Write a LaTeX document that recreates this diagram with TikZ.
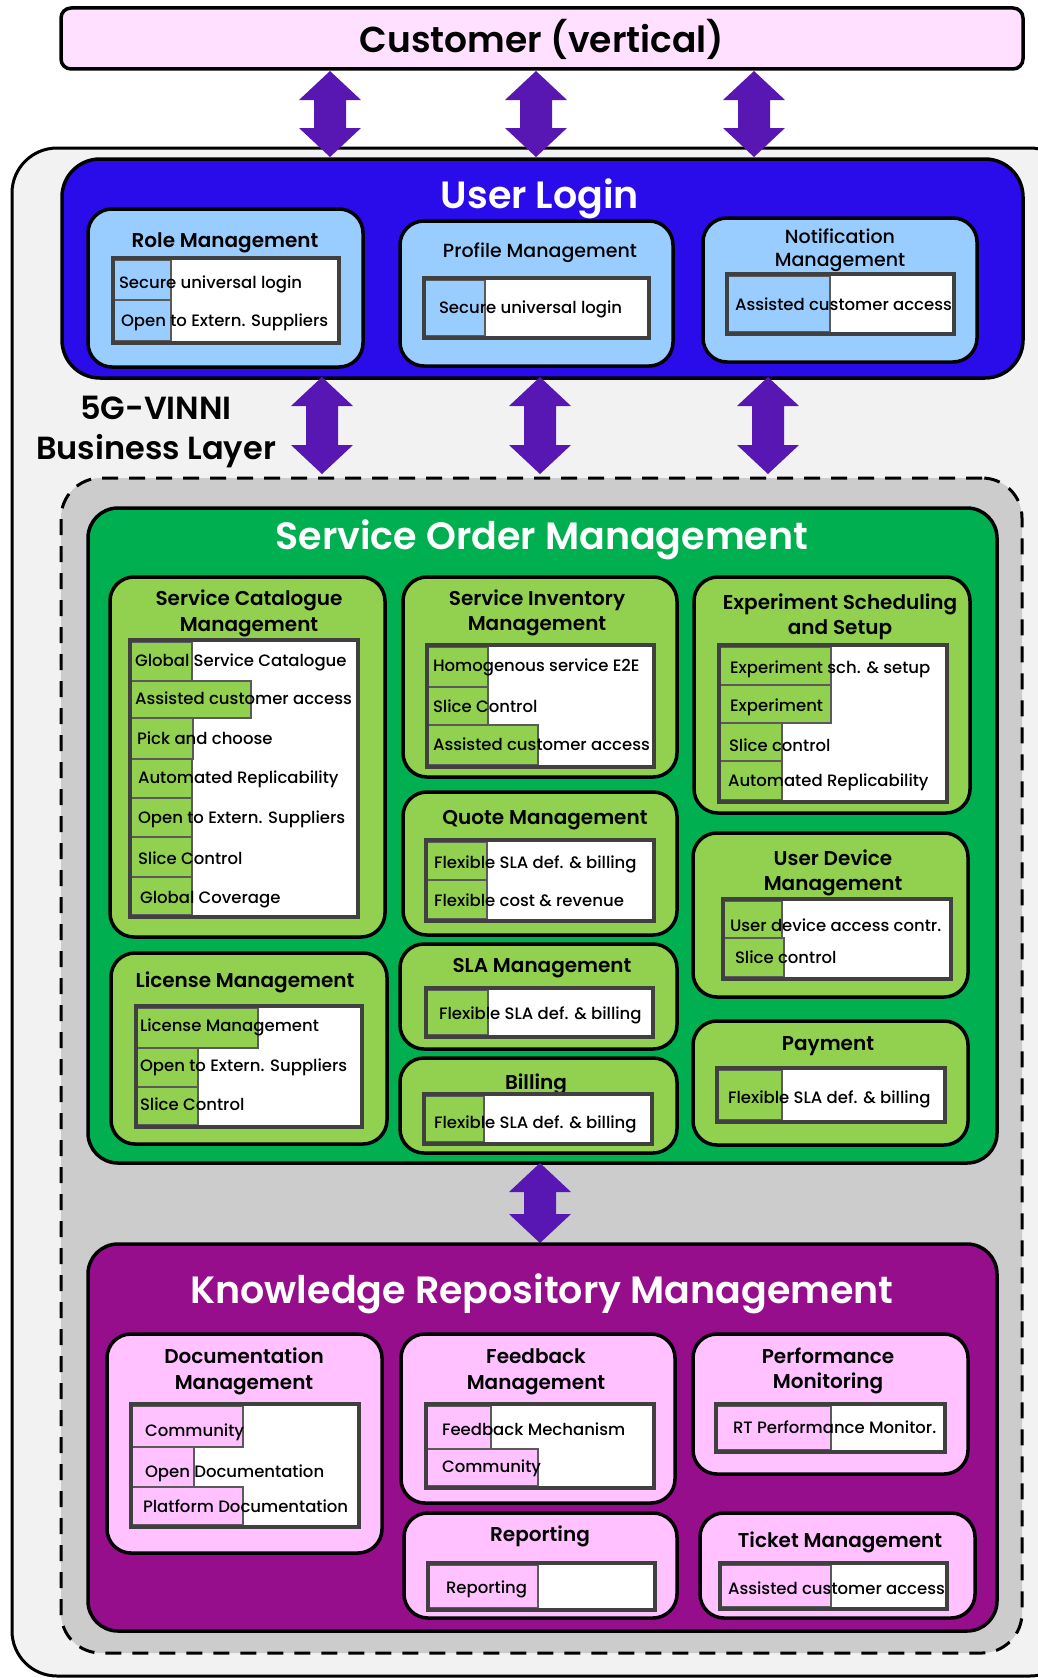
\documentclass[tikz,border=0pt]{standalone}
\usepackage{fontspec}
\setmainfont{Poppins}[UprightFont={* Medium},BoldFont={* SemiBold}]
\newfontfamily\regfont{Poppins}
\usetikzlibrary{calc}
\definecolor{custpink}{RGB}{255,225,255}
\definecolor{outergray}{RGB}{242,242,242}
\definecolor{ulblue}{RGB}{42,12,234}
\definecolor{ltblue}{RGB}{153,204,255}
\definecolor{dashgray}{RGB}{204,204,204}
\definecolor{somgreen}{RGB}{0,176,80}
\definecolor{ltgreen}{RGB}{146,208,80}
\definecolor{krmpurple}{RGB}{150,14,140}
\definecolor{ltpink}{RGB}{255,193,255}
\definecolor{tabgray}{RGB}{64,64,64}
\definecolor{cellgray}{RGB}{90,90,90}
\definecolor{arrowc}{RGB}{88,22,178}
\newcommand\fs[2]{\fontsize{#1}{#2}\selectfont}
% box from (x1,y1) to (x2,y2)
\newcommand\bx[6]{\node[anchor=north west,minimum width={(#4-#2)*1pt},minimum height={(#5-#3)*1pt},#6] (#1) at (#2,#3) {};}
% bold title: name, x, cap-centre y, size, text
\newcommand\ttl[5]{\node[anchor=base,font=\fs{#4}{#4}\bfseries] (#1) at (#2,{#3+0.35*#4}) {#5};}
\newcommand\ttlr[5]{\node[anchor=base,font=\fs{#4}{#4}] (#1) at (#2,{#3+0.35*#4}) {#5};}
% cell: name,x1,y1,x2,y2,fill,tx,ty,text
\newcommand\cl[9]{\bx{#1}{#2}{#3}{#4}{#5}{cell,fill=#6}\node[ctext] (#1-t) at (#7,{#8+6}) {#9};}
\newcommand\tbl[5]{\bx{#1}{#2}{#3}{#4}{#5}{fill=white}}
\newcommand\tblb[1]{\draw[tabline] (#1.north west) rectangle (#1.south east);}
% double block arrow between two named coordinates
\newcommand\dbl[2]{\fill[arrowc] (#1) -- ++(31,29) -- ++(-15,0) -- ($(#2)+(16,-29)$) -- ++(15,0) -- (#2) -- ++(-31,-29) -- ++(15,0) -- ($(#1)+(-16,29)$) -- ++(-15,0) -- cycle;}
\begin{document}
\begin{tikzpicture}[x=1pt,y=-1pt,
  every node/.style={inner sep=0pt,outer sep=0pt},
  frame/.style={draw=black,line width=3pt,rounded corners=45pt,fill=outergray},
  big/.style={draw=black,line width=3.5pt,rounded corners=#1},
  sub/.style={draw=black,line width=3.5pt,rounded corners=24pt},
  tabline/.style={draw=tabgray,line width=3.5pt},
  cell/.style={draw=cellgray,line width=1.2pt},
  ctext/.style={anchor=base west,font=\fs{16.5}{20}},
]
\useasboundingbox (0,0) rectangle (1038,1678);
\clip (0,0) rectangle (1038,1678);

% outer frame
\bx{frame}{12}{148}{1075}{1676}{frame}
% customer
\bx{cust}{61}{8}{1023}{69}{big=10pt,fill=custpink}
\ttl{custT}{542}{40}{36}{Customer (vertical)}

% user login
\bx{ul}{62}{159}{1023}{378}{big=38pt,fill=ulblue}
\node[anchor=base,font=\fs{38}{38}\bfseries,text=white] (ulT) at (540,{195+0.35*38}) {User Login};

% Role management
\bx{role}{88}{209}{363}{367}{sub,fill=ltblue}
\ttl{roleT}{225}{240}{20}{Role Management}
\tbl{roleTab}{113}{258}{339}{343}
\cl{roleC1}{113}{260}{171}{300}{ltblue}{119}{282}{Secure universal login}
\cl{roleC2}{113}{300}{171}{341}{ltblue}{121}{320}{Open to Extern. Suppliers}
\tblb{roleTab}

% Profile management
\bx{prof}{400}{221}{673}{366}{sub,fill=ltblue}
\ttlr{profT}{540}{251}{19}{Profile Management}
\tbl{profTab}{424}{278}{649}{338}
\cl{profC1}{424}{280}{485}{336}{ltblue}{439}{307}{Secure universal login}
\tblb{profTab}

% Notification management
\bx{noti}{703}{218}{977}{362}{sub,fill=ltblue}
\ttlr{notiT1}{840}{237}{19}{Notification}
\ttlr{notiT2}{840}{260}{19}{Management}
\tbl{notiTab}{727}{274}{954}{334}
\cl{notiC1}{727}{276}{830}{332}{ltblue}{735}{304}{Assisted customer access}
\tblb{notiTab}

% arrows customer <-> user login
\coordinate (a1t) at (330,71); \coordinate (a1b) at (330,157);
\coordinate (a2t) at (536,71); \coordinate (a2b) at (536,157);
\coordinate (a3t) at (754,71); \coordinate (a3b) at (754,157);
\dbl{a1t}{a1b}\dbl{a2t}{a2b}\dbl{a3t}{a3b}

% business layer label
\ttl{bl1}{156}{408}{32}{5G-VINNI}
\ttl{bl2}{156}{448}{32}{Business Layer}

% dashed region
\bx{dash}{61}{478}{1022}{1653}{draw=black,line width=3pt,dash pattern=on 16pt off 11pt,rounded corners=40pt,fill=dashgray}

% arrows user login <-> SOM
\coordinate (b1t) at (322,377); \coordinate (b1b) at (322,474);
\coordinate (b2t) at (540,377); \coordinate (b2b) at (540,474);
\coordinate (b3t) at (768,377); \coordinate (b3b) at (768,474);
\dbl{b1t}{b1b}\dbl{b2t}{b2b}\dbl{b3t}{b3b}

% Service Order Management
\bx{som}{88}{508}{997}{1163}{big=30pt,fill=somgreen}
\node[anchor=base,font=\fs{38}{38}\bfseries,text=white] (somT) at (542,{536+0.35*38}) {Service Order Management};

% Service Catalogue Management
\bx{scm}{110}{577}{385}{937}{sub,fill=ltgreen}
\ttl{scmT1}{249}{598}{20}{Service Catalogue}
\ttl{scmT2}{249}{624}{20}{Management}
\tbl{scmTab}{130}{640}{358}{917}
\cl{scmC1}{130}{642}{192}{681}{ltgreen}{135}{660}{Global Service Catalogue}
\cl{scmC2}{130}{681}{251}{718}{ltgreen}{135}{698}{Assisted customer access}
\cl{scmC3}{130}{718}{193}{759}{ltgreen}{137}{738}{Pick and choose}
\cl{scmC4}{130}{759}{192}{798}{ltgreen}{138}{777}{Automated Replicability}
\cl{scmC5}{130}{798}{192}{837}{ltgreen}{138}{817}{Open to Extern. Suppliers}
\cl{scmC6}{130}{837}{192}{877}{ltgreen}{138}{858}{Slice Control}
\cl{scmC7}{130}{877}{192}{915}{ltgreen}{140}{897}{Global Coverage}
\tblb{scmTab}

% Service Inventory Management
\bx{sim}{403}{577}{677}{777}{sub,fill=ltgreen}
\ttl{simT1}{537}{598}{20}{Service Inventory}
\ttl{simT2}{537}{623}{20}{Management}
\tbl{simTab}{427}{645}{654}{767}
\cl{simC1}{427}{647}{488}{687}{ltgreen}{433}{665}{Homogenous service E2E}
\cl{simC2}{427}{687}{488}{725}{ltgreen}{433}{706}{Slice Control}
\cl{simC3}{427}{725}{538}{765}{ltgreen}{433}{744}{Assisted customer access}
\tblb{simTab}

% Quote Management
\bx{quo}{403}{792}{677}{935}{sub,fill=ltgreen}
\ttl{quoT}{545}{817}{20}{Quote Management}
\tbl{quoTab}{426}{840}{654}{921}
\cl{quoC1}{426}{842}{487}{880}{ltgreen}{434}{862}{Flexible SLA def. \& billing}
\cl{quoC2}{426}{880}{487}{919}{ltgreen}{434}{900}{Flexible cost \& revenue}
\tblb{quoTab}

% Experiment Scheduling and Setup
\bx{ess}{694}{577}{970}{813}{sub,fill=ltgreen}
\ttl{essT1}{840}{602}{20}{Experiment Scheduling}
\ttl{essT2}{840}{627}{20}{and Setup}
\tbl{essTab}{719}{645}{947}{802}
\cl{essC1}{719}{647}{831}{685}{ltgreen}{730}{667}{Experiment sch. \& setup}
\cl{essC2}{719}{685}{831}{723}{ltgreen}{730}{705}{Experiment}
\cl{essC3}{719}{723}{782}{761}{ltgreen}{729}{745}{Slice control}
\cl{essC4}{719}{761}{782}{800}{ltgreen}{728}{780}{Automated Replicability}
\tblb{essTab}

% User Device Management
\bx{udm}{693}{833}{968}{997}{sub,fill=ltgreen}
\ttl{udmT1}{833}{858}{20}{User Device}
\ttl{udmT2}{833}{883}{20}{Management}
\tbl{udmTab}{723}{899}{951}{979}
\cl{udmC1}{723}{901}{782}{938}{ltgreen}{730}{925}{User device access contr.}
\cl{udmC2}{723}{938}{784}{977}{ltgreen}{735}{957}{Slice control}
\tblb{udmTab}

% Payment
\bx{pay}{693}{1021}{968}{1145}{sub,fill=ltgreen}
\ttl{payT}{828}{1043}{20}{Payment}
\tbl{payTab}{717}{1068}{945}{1122}
\cl{payC1}{717}{1070}{782}{1120}{ltgreen}{728}{1097}{Flexible SLA def. \& billing}
\tblb{payTab}

% License Management
\bx{lic}{111}{953}{387}{1144}{sub,fill=ltgreen}
\ttl{licT}{245}{980}{20}{License Management}
\tbl{licTab}{136}{1006}{362}{1127}
\cl{licC1}{136}{1008}{258}{1048}{ltgreen}{140}{1025}{License Management}
\cl{licC2}{136}{1048}{198}{1087}{ltgreen}{140}{1065}{Open to Extern. Suppliers}
\cl{licC3}{136}{1087}{198}{1125}{ltgreen}{140}{1104}{Slice Control}
\tblb{licTab}

% SLA Management
\bx{sla}{400}{944}{677}{1049}{sub,fill=ltgreen}
\ttl{slaT}{542}{965}{20}{SLA Management}
\tbl{slaTab}{426}{988}{653}{1037}
\cl{slaC1}{426}{990}{488}{1035}{ltgreen}{439}{1013}{Flexible SLA def. \& billing}
\tblb{slaTab}

% Billing
\bx{bil}{400}{1058}{677}{1153}{sub,fill=ltgreen}
\ttl{bilT}{536}{1082}{20}{Billing}
\tbl{bilTab}{424}{1094}{652}{1144}
\cl{bilC1}{424}{1096}{484}{1142}{ltgreen}{434}{1122}{Flexible SLA def. \& billing}
\tblb{bilTab}

% arrow SOM <-> KRM
\coordinate (ct) at (540,1163); \coordinate (cb) at (540,1243);
\dbl{ct}{cb}

% Knowledge Repository Management
\bx{krm}{88}{1244}{997}{1631}{big=30pt,fill=krmpurple}
\node[anchor=base,font=\fs{38}{38}\bfseries,text=white] (krmT) at (542,{1290+0.35*38}) {Knowledge Repository Management};

% Documentation Management
\bx{doc}{107}{1334}{382}{1553}{sub,fill=ltpink}
\ttl{docT1}{244}{1356}{20}{Documentation}
\ttl{docT2}{244}{1382}{20}{Management}
\tbl{docTab}{131}{1404}{359}{1527}
\cl{docC1}{131}{1406}{243}{1447}{ltpink}{145}{1430}{Community}
\cl{docC2}{131}{1447}{194}{1487}{ltpink}{145}{1471}{Open Documentation}
\cl{docC3}{131}{1487}{243}{1525}{ltpink}{143}{1506}{Platform Documentation}
\tblb{docTab}

% Feedback Management
\bx{fbm}{401}{1334}{675}{1503}{sub,fill=ltpink}
\ttl{fbmT1}{536}{1356}{20}{Feedback}
\ttl{fbmT2}{536}{1382}{20}{Management}
\tbl{fbmTab}{426}{1404}{654}{1488}
\cl{fbmC1}{426}{1406}{491}{1449}{ltpink}{442}{1429}{Feedback Mechanism}
\cl{fbmC2}{426}{1449}{538}{1486}{ltpink}{442}{1466}{Community}
\tblb{fbmTab}

% Reporting
\bx{rep}{404}{1513}{677}{1618}{sub,fill=ltpink}
\ttl{repT}{540}{1534}{20}{Reporting}
\tbl{repTab}{428}{1563}{655}{1610}
\cl{repC1}{428}{1565}{538}{1608}{ltpink}{446}{1587}{Reporting}
\tblb{repTab}

% Performance Monitoring
\bx{pmo}{693}{1334}{968}{1474}{sub,fill=ltpink}
\ttl{pmoT1}{828}{1356}{20}{Performance}
\ttl{pmoT2}{828}{1381}{20}{Monitoring}
\tbl{pmoTab}{716}{1404}{945}{1452}
\cl{pmoC1}{716}{1406}{831}{1450}{ltpink}{733}{1427}{RT Performance Monitor.}
\tblb{pmoTab}

% Ticket Management
\bx{tic}{700}{1513}{975}{1618}{sub,fill=ltpink}
\ttl{ticT}{840}{1540}{20}{Ticket Management}
\tbl{ticTab}{720}{1563}{947}{1609}
\cl{ticC1}{720}{1565}{831}{1607}{ltpink}{728}{1588}{Assisted customer access}
\tblb{ticTab}
\end{tikzpicture}
\end{document}
